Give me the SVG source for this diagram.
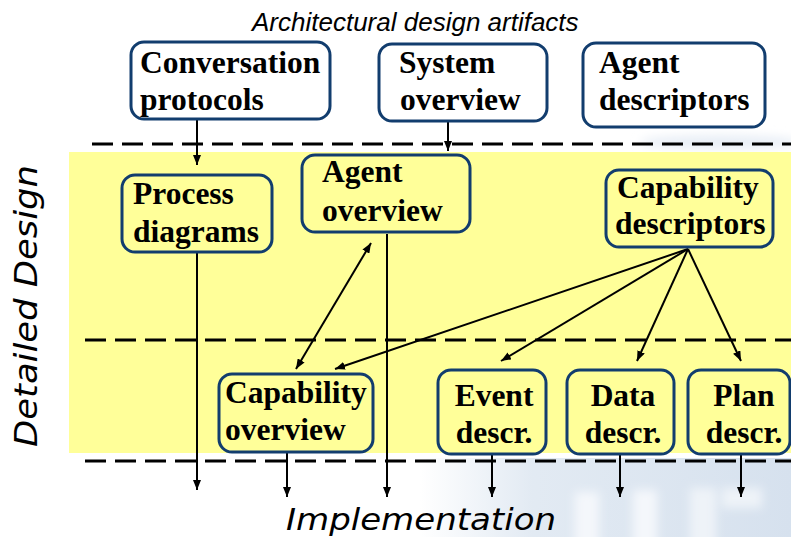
<svg xmlns="http://www.w3.org/2000/svg" width="791" height="537" viewBox="0 0 791 537">
  <defs>
    <style>
      .box { stroke: #123d6e; stroke-width: 3; }
      .top { fill: #ffffff; }
      .mid { fill: #ffff99; }
      .lbl { font-family: "Liberation Serif", "Times New Roman", serif; font-weight: bold; font-size: 31.5px; fill: #000; }
      .ctr { text-anchor: middle; }
      .dash { stroke: #000; stroke-width: 3; stroke-dasharray: 21 9; fill: none; }
      .conn { stroke: #000; stroke-width: 2; fill: none; }
      .sans { font-family: "DejaVu Sans", Verdana, sans-serif; font-style: italic; fill: #000; }
    </style>
    <marker id="arr" viewBox="0 0 10 8" refX="10" refY="4" markerWidth="10" markerHeight="8" markerUnits="userSpaceOnUse" orient="auto-start-reverse">
      <path d="M0,0 L10,4 L0,8 Z" fill="#000"/>
    </marker>
    <linearGradient id="wm" x1="0" y1="0" x2="1" y2="0">
      <stop offset="0" stop-color="#dbe5f0" stop-opacity="0"/>
      <stop offset="0.3" stop-color="#dbe5f0" stop-opacity="0.8"/>
      <stop offset="1" stop-color="#d6e1ee" stop-opacity="1"/>
    </linearGradient>
    <filter id="blur" x="-20%" y="-50%" width="140%" height="200%">
      <feGaussianBlur stdDeviation="5"/>
    </filter>
  </defs>

  <rect x="0" y="0" width="791" height="537" fill="#ffffff"/>

  <g id="watermark">
    <rect x="420" y="458" width="371" height="79" fill="url(#wm)"/>
    <g filter="url(#blur)">
      <rect x="575" y="492" width="24" height="60" fill="#f4f7fb"/>
      <rect x="633" y="490" width="24" height="60" fill="#f4f7fb"/>
      <rect x="690" y="488" width="26" height="60" fill="#eef3f8"/>
      <rect x="722" y="488" width="40" height="20" fill="#eef3f8"/>
      <ellipse cx="720" cy="142" rx="80" ry="7" fill="#e8eef6"/>
    </g>
  </g>

  <rect id="detailed-band" x="69" y="152" width="722" height="301" fill="#ffff99"/>

  <g id="separators">
    <line class="dash" x1="92" y1="144" x2="791" y2="144"/>
    <line class="dash" x1="85" y1="340" x2="791" y2="340"/>
    <line class="dash" x1="85" y1="461" x2="791" y2="461"/>
  </g>

  <text id="title" x="252" y="31" font-family="Liberation Sans, Arial, sans-serif" font-style="italic" font-size="26" fill="#000">Architectural design artifacts</text>
  <text id="detailed-design" class="sans" font-size="32" transform="translate(37,447) rotate(-90)" textLength="282" lengthAdjust="spacingAndGlyphs">Detailed Design</text>
  <text id="implementation" class="sans" x="286" y="530" font-size="30" textLength="270" lengthAdjust="spacingAndGlyphs">Implementation</text>

  <g id="connectors">
    <line class="conn" x1="197" y1="119" x2="197" y2="165" marker-end="url(#arr)"/>
    <line class="conn" x1="448" y1="121" x2="448" y2="151" marker-end="url(#arr)"/>
    <line class="conn" x1="197" y1="252" x2="197" y2="490" marker-end="url(#arr)"/>
    <line class="conn" x1="387" y1="234" x2="387" y2="497" marker-end="url(#arr)"/>
    <line class="conn" x1="287" y1="452" x2="287" y2="497" marker-end="url(#arr)"/>
    <line class="conn" x1="492" y1="454" x2="492" y2="497" marker-end="url(#arr)"/>
    <line class="conn" x1="620" y1="454" x2="620" y2="497" marker-end="url(#arr)"/>
    <line class="conn" x1="741" y1="454" x2="741" y2="497" marker-end="url(#arr)"/>
    <line class="conn" x1="296" y1="369" x2="371" y2="243" marker-start="url(#arr)" marker-end="url(#arr)"/>
    <line class="conn" x1="688" y1="249" x2="335" y2="369" marker-end="url(#arr)"/>
    <line class="conn" x1="688" y1="249" x2="501" y2="361" marker-end="url(#arr)"/>
    <line class="conn" x1="688" y1="249" x2="637" y2="361" marker-end="url(#arr)"/>
    <line class="conn" x1="688" y1="249" x2="741" y2="361" marker-end="url(#arr)"/>
  </g>

  <g id="conversation-protocols">
    <rect class="box top" x="131" y="42" width="199" height="77" rx="13"/>
    <text class="lbl" x="140" y="73">Conversation</text>
    <text class="lbl" x="140" y="110">protocols</text>
  </g>
  <g id="system-overview">
    <rect class="box top" x="379" y="44" width="168" height="77" rx="13"/>
    <text class="lbl" x="399" y="73">System</text>
    <text class="lbl" x="400" y="110">overview</text>
  </g>
  <g id="agent-descriptors">
    <rect class="box top" x="583" y="43" width="182" height="84" rx="13"/>
    <text class="lbl" x="599" y="73">Agent</text>
    <text class="lbl" x="599" y="110">descriptors</text>
  </g>
  <g id="process-diagrams">
    <rect class="box mid" x="122" y="175" width="150" height="77" rx="13"/>
    <text class="lbl" x="133" y="204">Process</text>
    <text class="lbl" x="133" y="242">diagrams</text>
  </g>
  <g id="agent-overview">
    <rect class="box mid" x="302" y="155" width="168" height="77" rx="13"/>
    <text class="lbl" x="322" y="182">Agent</text>
    <text class="lbl" x="322" y="221">overview</text>
  </g>
  <g id="capability-descriptors">
    <rect class="box mid" x="606" y="170" width="167" height="77" rx="13"/>
    <text class="lbl" x="617" y="198">Capability</text>
    <text class="lbl" x="615" y="234">descriptors</text>
  </g>
  <g id="capability-overview">
    <rect class="box mid" x="219" y="374" width="154" height="78" rx="13"/>
    <text class="lbl" x="225" y="403">Capability</text>
    <text class="lbl" x="225" y="440">overview</text>
  </g>
  <g id="event-descr">
    <rect class="box mid" x="438" y="370" width="108" height="84" rx="13"/>
    <text class="lbl ctr" x="494" y="406">Event</text>
    <text class="lbl ctr" x="494" y="443">descr.</text>
  </g>
  <g id="data-descr">
    <rect class="box mid" x="567" y="370" width="107" height="84" rx="13"/>
    <text class="lbl ctr" x="623" y="406">Data</text>
    <text class="lbl ctr" x="623" y="443">descr.</text>
  </g>
  <g id="plan-descr">
    <rect class="box mid" x="688" y="370" width="102" height="84" rx="13"/>
    <text class="lbl ctr" x="744" y="406">Plan</text>
    <text class="lbl ctr" x="744" y="443">descr.</text>
  </g>
</svg>
